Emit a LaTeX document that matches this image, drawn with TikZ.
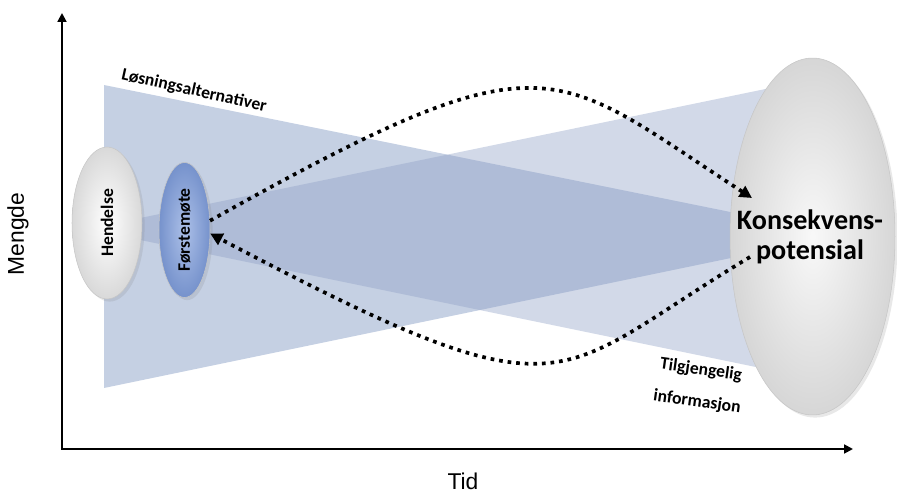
\documentclass[tikz,border=0pt]{standalone}
\usepackage{fontspec}
\setmainfont{Carlito}
\newfontfamily\arialfont{Liberation Sans}
\usetikzlibrary{shapes.geometric,arrows.meta,shadows}
\definecolor{kileA}{RGB}{197,208,227}
\definecolor{kileB}{RGB}{143,160,198}
\tikzset{
  blob/.style={ellipse, draw=gray!45, line width=0.3pt, inner sep=0pt, shading=radial,
    drop shadow={opacity=0.18, shadow xshift=1.5pt, shadow yshift=-1.5pt}},
  tag/.style={font=\bfseries\fontsize{10}{12}\selectfont, inner sep=0pt},
  akse/.style={font=\arialfont\fontsize{13}{15}\selectfont},
  flow/.style={line width=2.1pt, dash pattern=on 2.1pt off 2.8pt, -{Triangle[length=7pt,width=7pt]}},
  axis/.style={line width=1.1pt, {Triangle[length=5pt,width=5pt]}-{Triangle[length=5pt,width=5pt]}}
}
\begin{document}
\begin{tikzpicture}[x=0.02cm, y=-0.02cm]
\useasboundingbox (0,0) rectangle (897,493);
\coordinate (o) at (62,449); \coordinate (ytop) at (62,13); \coordinate (xend) at (853,449);
\coordinate (kin) at (752,198); \coordinate (kout) at (750,257);
% kilene bak ellipsene
\fill[kileA] (104,85) -- (760,218) -- (760,252) -- (104,388) -- cycle;
\fill[kileB, fill opacity=0.4] (87,229) -- (780,86) -- (780,372) -- cycle;
\draw[axis] (ytop) -- (o) -- (xend);
\node[akse, rotate=90] (mengde) at (18,234) {Mengde};
\node[akse] (tid) at (463,481) {Tid};
\node[blob, minimum width=1.4cm, minimum height=3.04cm, inner color=white, outer color=gray!30, tag] (hendelse) at (107,223) {\rotatebox{90}{Hendelse}};
\node[blob, minimum width=1.02cm, minimum height=2.7cm, inner color={rgb,255:red,172;green,192;blue,232}, outer color={rgb,255:red,118;green,146;blue,204}, tag] (forste) at (184.5,230) {\rotatebox{90}{Førstemøte}};
\node[blob, minimum width=3.3cm, minimum height=7.14cm, inner color=gray!5, outer color=gray!32] (konsek) at (812.5,236.5) {};
\node[font=\bfseries\fontsize{16}{17}\selectfont, align=center] (konsektxt) at (810,237) {Konsekvens-\\potensial};
\node[tag, rotate=-12.5] (losn) at (194,91) {Løsningsalternativer};
\node[tag, rotate=-8] (tilg) at (701,370) {Tilgjengelig};
\node[tag, rotate=-8] (info) at (697,402) {informasjon};
\draw[flow] (forste.20) .. controls (550,30) and (550,67) .. (kin);
\draw[flow] (kout) .. controls (548,378) and (575,426) .. (forste.-8);
\end{tikzpicture}
\end{document}
